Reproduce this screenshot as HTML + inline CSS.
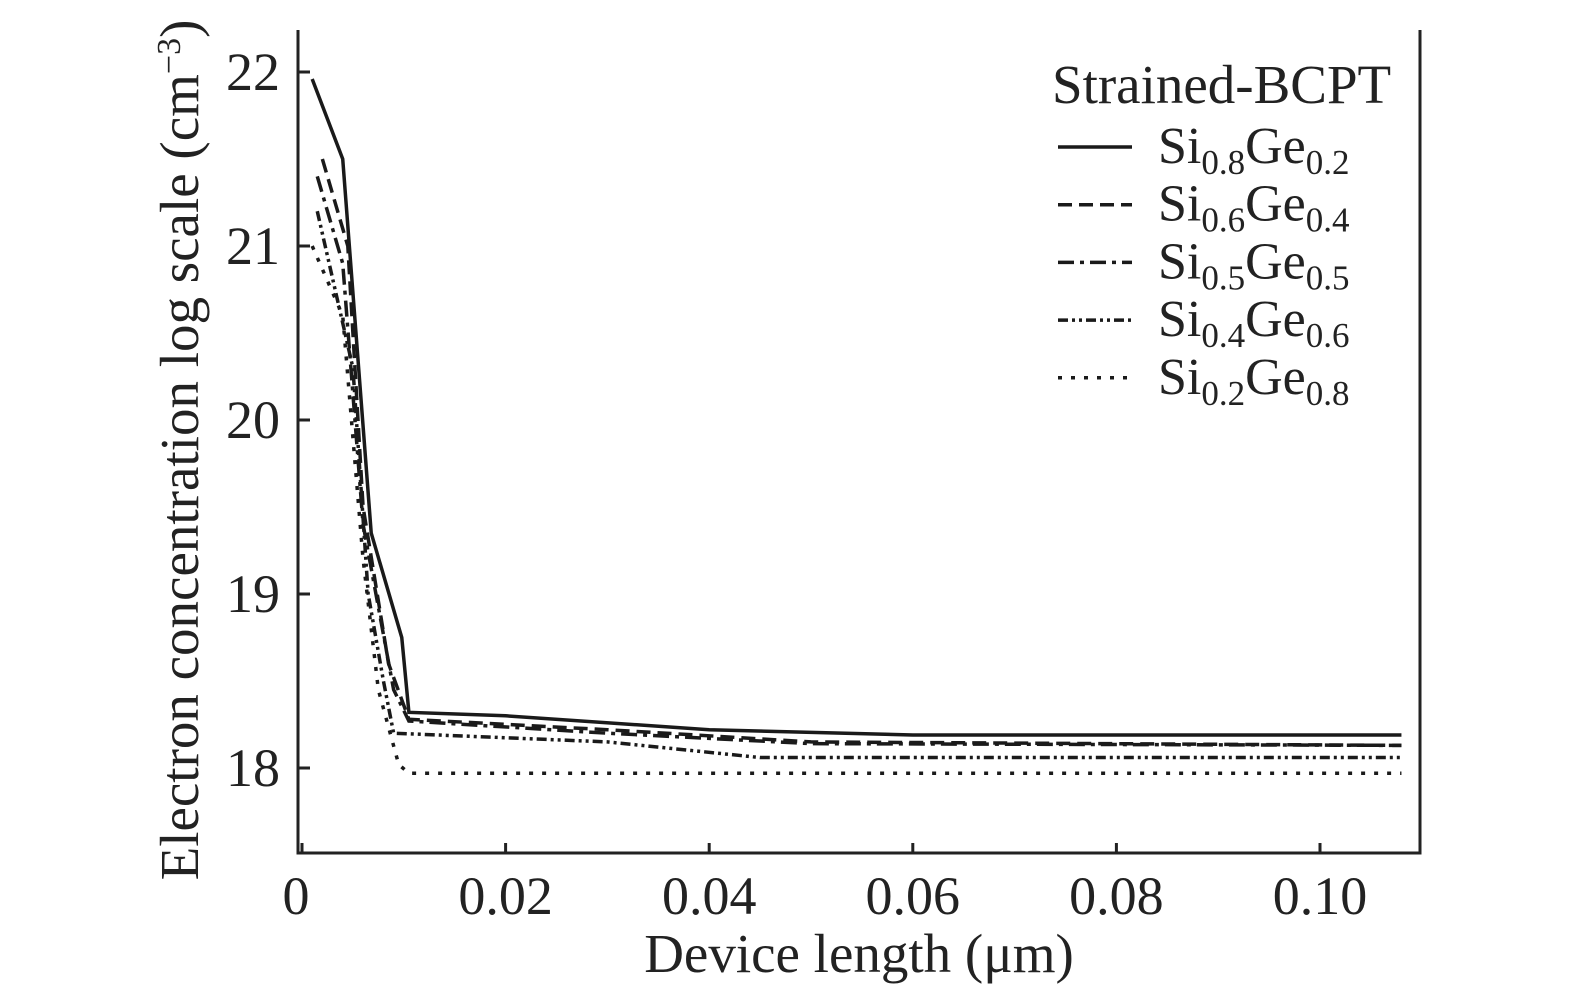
<!DOCTYPE html>
<html><head><meta charset="utf-8"><style>
body{margin:0;background:#fff}
svg text{font-family:"Liberation Serif",serif;fill:#222}
</style></head><body>
<svg width="1575" height="993" viewBox="0 0 1575 993">
<g id="axes"></g><g id="series"></g><g id="legend"></g>
</svg>
<script>
const xTicks=[0,0.02,0.04,0.06,0.08,0.10];
const xTickLabels=["0","0.02","0.04","0.06","0.08","0.10"];
const yTicks=[18,19,20,21,22];
const yTickLabels=["18","19","20","21","22"];
const seriesNames=[["0.8","0.2"],["0.6","0.4"],["0.5","0.5"],["0.4","0.6"],["0.2","0.8"]];
const xs1=[0.001,0.004,0.0068,0.0098,0.0105,0.02,0.04,0.06,0.108];
const ys1=[21.96,21.5,19.35,18.75,18.32,18.3,18.22,18.19,18.19];
const xs2=[0.002,0.0045,0.006,0.0085,0.0105,0.03,0.05,0.108];
const ys2=[21.5,21.0,19.5,18.6,18.28,18.22,18.15,18.13];
const xs3=[0.0015,0.004,0.006,0.009,0.0105,0.03,0.05,0.108];
const ys3=[21.4,20.9,19.4,18.45,18.27,18.2,18.14,18.13];
const xs4=[0.0015,0.005,0.0065,0.008,0.009,0.03,0.045,0.108];
const ys4=[21.2,20.3,19.0,18.5,18.2,18.15,18.06,18.06];
const xs5=[0.001,0.004,0.006,0.0075,0.0095,0.0105,0.108];
const ys5=[21.0,20.6,19.2,18.45,18.02,17.97,17.97];
const NS="http://www.w3.org/2000/svg";
const X=v=>302+v*10180, Y=v=>768-(v-18)*174;
function mk(t,a,p){const e=document.createElementNS(NS,t);for(const k in a)e.setAttribute(k,a[k]);p.appendChild(e);return e;}
const ax=document.getElementById('axes');
let e=mk('path',{d:'M298,30 V853 H1420 V30',fill:'none',stroke:'#222','stroke-width':3},ax);


xTicks.forEach((v,i)=>{
 let t=mk('line',{x1:X(v),x2:X(v),y1:853,y2:843,stroke:'#222','stroke-width':3},ax);
 
 
 let l=mk('text',{x:i==0?296:X(v),y:914,'text-anchor':'middle','font-size':54},ax);l.textContent=xTickLabels[i];
 
 
});
yTicks.forEach((v,i)=>{
 let t=mk('line',{x1:298,x2:310,y1:Y(v),y2:Y(v),stroke:'#222','stroke-width':3},ax);
 
 
 let l=mk('text',{x:280,y:Y(v)+18,'text-anchor':'end','font-size':54},ax);l.textContent=yTickLabels[i];
 
 
});
let xt=mk('text',{x:859,y:972,'text-anchor':'middle','font-size':55},ax);xt.textContent='Device length (μm)';


let yt=mk('text',{transform:'translate(198,450) rotate(-90)','text-anchor':'middle','font-size':55},ax);
yt.innerHTML='Electron concentration log scale (cm<tspan dy="-18" font-size="34">−3</tspan><tspan dy="18">)</tspan>';


const dashes=['none','14,7','16,6,4,6','10,4,3,4,3,4','4,9'];
const data=[[xs1,ys1],[xs2,ys2],[xs3,ys3],[xs4,ys4],[xs5,ys5]];
const sg=document.getElementById('series'), lg=document.getElementById('legend');
data.forEach((d,i)=>{
 let p=mk('polyline',{points:d[0].map((x,j)=>X(x)+','+Y(d[1][j])).join(' '),fill:'none',stroke:'#1a1a1a','stroke-width':3.5,'stroke-dasharray':dashes[i]},sg);
 
 
 const ly=147+i*57.7;
 let ll=mk('line',{x1:1058,x2:1132,y1:ly,y2:ly,stroke:'#1a1a1a','stroke-width':3.5,'stroke-dasharray':dashes[i]},lg);
 
 
 let lt=mk('text',{x:1158,y:ly+16,'font-size':52},lg);
 lt.innerHTML='Si<tspan dy="11" font-size="35">'+seriesNames[i][0]+'</tspan><tspan dy="-11">Ge</tspan><tspan dy="11" font-size="35">'+seriesNames[i][1]+'</tspan>';
 
 
});
let lh=mk('text',{x:1052,y:103,'font-size':55},lg);lh.textContent='Strained-BCPT';


</script>
</body></html>
